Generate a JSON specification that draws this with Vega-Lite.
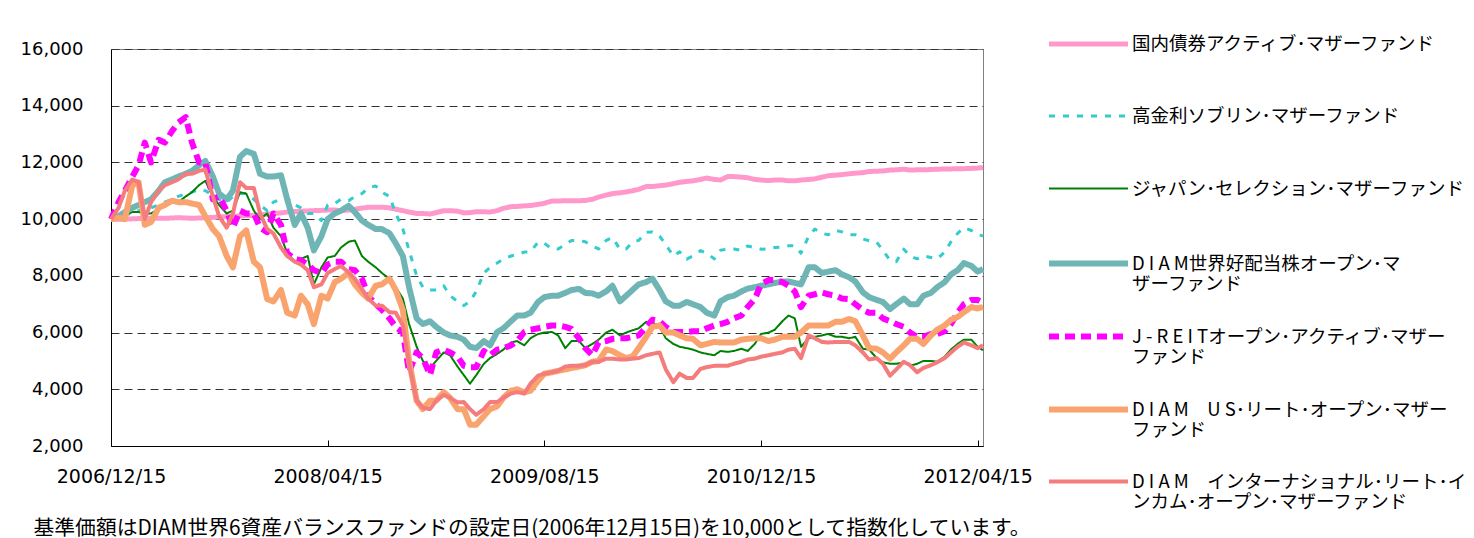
{
  "$schema": "https://vega.github.io/schema/vega-lite/v6.json",
  "width": 872,
  "height": 397,
  "autosize": "none",
  "padding": {"left": 111, "top": 49, "right": 491, "bottom": 92},
  "background": "#ffffff",
  "config": {"view": {"stroke": "#808080", "strokeWidth": 1}},
  "data": {
    "values": [
      {"date": "2006-12-15", "kok": 10000, "sov": 10000, "jap": 10000, "koh": 10000, "jre": 10000, "usr": 10000, "int": 10000},
      {"date": "2007-01-01", "kok": 10000, "sov": 10050, "jap": 10100, "koh": 10100, "jre": 10600, "usr": 10050, "int": 10400},
      {"date": "2007-01-15", "kok": 10000, "sov": 10150, "jap": 10150, "koh": 10250, "jre": 11000, "usr": 10000, "int": 11000},
      {"date": "2007-02-01", "kok": 10010, "sov": 10200, "jap": 10250, "koh": 10400, "jre": 11500, "usr": 11200, "int": 11400},
      {"date": "2007-02-15", "kok": 10020, "sov": 10300, "jap": 10250, "koh": 10500, "jre": 11900, "usr": 11300, "int": 11300},
      {"date": "2007-03-01", "kok": 10030, "sov": 10350, "jap": 10200, "koh": 10600, "jre": 12700, "usr": 9800, "int": 10000},
      {"date": "2007-03-15", "kok": 10030, "sov": 10400, "jap": 10200, "koh": 10700, "jre": 12000, "usr": 9900, "int": 10600},
      {"date": "2007-04-01", "kok": 10030, "sov": 10500, "jap": 10350, "koh": 11000, "jre": 12800, "usr": 10400, "int": 11000},
      {"date": "2007-04-15", "kok": 10030, "sov": 10600, "jap": 10500, "koh": 11300, "jre": 12700, "usr": 10500, "int": 11200},
      {"date": "2007-05-01", "kok": 10040, "sov": 10700, "jap": 10600, "koh": 11400, "jre": 13100, "usr": 10650, "int": 11300},
      {"date": "2007-05-15", "kok": 10050, "sov": 10800, "jap": 10600, "koh": 11500, "jre": 13400, "usr": 10600, "int": 11400},
      {"date": "2007-06-01", "kok": 10040, "sov": 10900, "jap": 10800, "koh": 11600, "jre": 13600, "usr": 10600, "int": 11600},
      {"date": "2007-06-15", "kok": 10030, "sov": 10950, "jap": 10950, "koh": 11700, "jre": 12700, "usr": 10550, "int": 11600},
      {"date": "2007-07-01", "kok": 10040, "sov": 11050, "jap": 11200, "koh": 11900, "jre": 12000, "usr": 10500, "int": 11700},
      {"date": "2007-07-15", "kok": 10050, "sov": 11000, "jap": 11350, "koh": 12050, "jre": 12000, "usr": 10100, "int": 11750},
      {"date": "2007-08-01", "kok": 10060, "sov": 10850, "jap": 10800, "koh": 11500, "jre": 10700, "usr": 9650, "int": 10800},
      {"date": "2007-08-15", "kok": 10080, "sov": 10700, "jap": 10500, "koh": 10900, "jre": 10800, "usr": 9400, "int": 10100},
      {"date": "2007-09-01", "kok": 10090, "sov": 10600, "jap": 10200, "koh": 10700, "jre": 10300, "usr": 8700, "int": 9700},
      {"date": "2007-09-15", "kok": 10100, "sov": 10800, "jap": 10300, "koh": 11000, "jre": 9700, "usr": 8300, "int": 10200},
      {"date": "2007-10-01", "kok": 10110, "sov": 10900, "jap": 10950, "koh": 12200, "jre": 10300, "usr": 9400, "int": 11300},
      {"date": "2007-10-15", "kok": 10120, "sov": 10900, "jap": 10900, "koh": 12400, "jre": 10200, "usr": 9600, "int": 11100},
      {"date": "2007-11-01", "kok": 10130, "sov": 10700, "jap": 10300, "koh": 12300, "jre": 10200, "usr": 8500, "int": 11100},
      {"date": "2007-11-15", "kok": 10150, "sov": 10500, "jap": 10000, "koh": 11600, "jre": 9700, "usr": 8300, "int": 10200},
      {"date": "2007-12-01", "kok": 10180, "sov": 10300, "jap": 10200, "koh": 11500, "jre": 9540, "usr": 7180, "int": 9650},
      {"date": "2007-12-15", "kok": 10200, "sov": 10600, "jap": 9700, "koh": 11500, "jre": 10200, "usr": 7100, "int": 9500},
      {"date": "2008-01-01", "kok": 10220, "sov": 10700, "jap": 9400, "koh": 11550, "jre": 9800, "usr": 7500, "int": 9000},
      {"date": "2008-01-15", "kok": 10250, "sov": 10750, "jap": 8800, "koh": 10700, "jre": 8800, "usr": 6700, "int": 8700},
      {"date": "2008-02-01", "kok": 10270, "sov": 10500, "jap": 8500, "koh": 9800, "jre": 8590, "usr": 6600, "int": 8500},
      {"date": "2008-02-15", "kok": 10280, "sov": 10400, "jap": 8600, "koh": 10200, "jre": 8550, "usr": 7300, "int": 8400},
      {"date": "2008-03-01", "kok": 10290, "sov": 10200, "jap": 8700, "koh": 9700, "jre": 8400, "usr": 7000, "int": 8200},
      {"date": "2008-03-15", "kok": 10300, "sov": 10200, "jap": 7700, "koh": 8900, "jre": 8200, "usr": 6300, "int": 7600},
      {"date": "2008-04-01", "kok": 10310, "sov": 9950, "jap": 8300, "koh": 9400, "jre": 8100, "usr": 7300, "int": 7700},
      {"date": "2008-04-15", "kok": 10320, "sov": 10500, "jap": 8650, "koh": 10000, "jre": 8400, "usr": 7200, "int": 8100},
      {"date": "2008-05-01", "kok": 10320, "sov": 10550, "jap": 8700, "koh": 10200, "jre": 8500, "usr": 7780, "int": 8240},
      {"date": "2008-05-15", "kok": 10300, "sov": 10700, "jap": 9000, "koh": 10300, "jre": 8500, "usr": 7900, "int": 8350},
      {"date": "2008-06-01", "kok": 10320, "sov": 10650, "jap": 9200, "koh": 10470, "jre": 8240, "usr": 8100, "int": 8120},
      {"date": "2008-06-15", "kok": 10350, "sov": 10800, "jap": 9250, "koh": 10250, "jre": 8200, "usr": 7700, "int": 7900},
      {"date": "2008-07-01", "kok": 10390, "sov": 10900, "jap": 8700, "koh": 9950, "jre": 7900, "usr": 7400, "int": 7540},
      {"date": "2008-07-15", "kok": 10420, "sov": 11100, "jap": 8500, "koh": 9800, "jre": 7300, "usr": 7200, "int": 7200},
      {"date": "2008-08-01", "kok": 10420, "sov": 11170, "jap": 8300, "koh": 9650, "jre": 7000, "usr": 7650, "int": 6950},
      {"date": "2008-08-15", "kok": 10420, "sov": 10950, "jap": 8100, "koh": 9650, "jre": 6800, "usr": 7700, "int": 6950},
      {"date": "2008-09-01", "kok": 10400, "sov": 10800, "jap": 7890, "koh": 9500, "jre": 6500, "usr": 7900, "int": 6720},
      {"date": "2008-09-15", "kok": 10350, "sov": 10200, "jap": 7600, "koh": 9150, "jre": 6200, "usr": 7500, "int": 6700},
      {"date": "2008-10-01", "kok": 10300, "sov": 9650, "jap": 7200, "koh": 8700, "jre": 6000, "usr": 6800, "int": 6250},
      {"date": "2008-10-15", "kok": 10250, "sov": 8900, "jap": 6300, "koh": 7600, "jre": 4600, "usr": 5000, "int": 4900},
      {"date": "2008-11-01", "kok": 10200, "sov": 8000, "jap": 5500, "koh": 6500, "jre": 5300, "usr": 3600, "int": 3600},
      {"date": "2008-11-15", "kok": 10200, "sov": 7600, "jap": 5000, "koh": 6300, "jre": 5100, "usr": 3300, "int": 3350},
      {"date": "2008-12-01", "kok": 10180, "sov": 7500, "jap": 4750, "koh": 6400, "jre": 4500, "usr": 3600, "int": 3300},
      {"date": "2008-12-15", "kok": 10230, "sov": 7500, "jap": 5000, "koh": 6200, "jre": 5300, "usr": 3600, "int": 3600},
      {"date": "2009-01-01", "kok": 10300, "sov": 7650, "jap": 5300, "koh": 6000, "jre": 5400, "usr": 3900, "int": 3800},
      {"date": "2009-01-15", "kok": 10300, "sov": 7300, "jap": 5200, "koh": 5900, "jre": 5300, "usr": 3700, "int": 3700},
      {"date": "2009-02-01", "kok": 10280, "sov": 7100, "jap": 4800, "koh": 5850, "jre": 5150, "usr": 3300, "int": 3540},
      {"date": "2009-02-15", "kok": 10220, "sov": 6950, "jap": 4500, "koh": 5750, "jre": 4830, "usr": 3300, "int": 3550},
      {"date": "2009-03-01", "kok": 10230, "sov": 7100, "jap": 4200, "koh": 5500, "jre": 4780, "usr": 2750, "int": 3300},
      {"date": "2009-03-15", "kok": 10260, "sov": 7450, "jap": 4500, "koh": 5450, "jre": 4780, "usr": 2750, "int": 3100},
      {"date": "2009-04-01", "kok": 10260, "sov": 8100, "jap": 4900, "koh": 5700, "jre": 5350, "usr": 3050, "int": 3300},
      {"date": "2009-04-15", "kok": 10250, "sov": 8300, "jap": 5100, "koh": 5550, "jre": 5200, "usr": 3300, "int": 3550},
      {"date": "2009-05-01", "kok": 10300, "sov": 8450, "jap": 5250, "koh": 6020, "jre": 5400, "usr": 3400, "int": 3550},
      {"date": "2009-05-15", "kok": 10380, "sov": 8600, "jap": 5400, "koh": 6150, "jre": 5450, "usr": 3700, "int": 3700},
      {"date": "2009-06-01", "kok": 10440, "sov": 8700, "jap": 5650, "koh": 6400, "jre": 5550, "usr": 3950, "int": 3850},
      {"date": "2009-06-15", "kok": 10450, "sov": 8750, "jap": 5700, "koh": 6600, "jre": 5700, "usr": 4000, "int": 3900},
      {"date": "2009-07-01", "kok": 10470, "sov": 8840, "jap": 5550, "koh": 6600, "jre": 6020, "usr": 3890, "int": 3850},
      {"date": "2009-07-15", "kok": 10480, "sov": 8850, "jap": 5800, "koh": 6700, "jre": 6100, "usr": 3950, "int": 4200},
      {"date": "2009-08-01", "kok": 10520, "sov": 9190, "jap": 5950, "koh": 7080, "jre": 6150, "usr": 4300, "int": 4480},
      {"date": "2009-08-15", "kok": 10560, "sov": 9150, "jap": 6000, "koh": 7250, "jre": 6200, "usr": 4550, "int": 4550},
      {"date": "2009-09-01", "kok": 10640, "sov": 8950, "jap": 6020, "koh": 7300, "jre": 6250, "usr": 4600, "int": 4600},
      {"date": "2009-09-15", "kok": 10640, "sov": 8950, "jap": 5900, "koh": 7300, "jre": 6250, "usr": 4650, "int": 4650},
      {"date": "2009-10-01", "kok": 10650, "sov": 9100, "jap": 5450, "koh": 7400, "jre": 6200, "usr": 4700, "int": 4800},
      {"date": "2009-10-15", "kok": 10650, "sov": 9250, "jap": 5700, "koh": 7500, "jre": 6130, "usr": 4750, "int": 4830},
      {"date": "2009-11-01", "kok": 10650, "sov": 9250, "jap": 5700, "koh": 7540, "jre": 5800, "usr": 4800, "int": 4830},
      {"date": "2009-11-15", "kok": 10660, "sov": 9200, "jap": 5450, "koh": 7400, "jre": 5450, "usr": 4850, "int": 4850},
      {"date": "2009-12-01", "kok": 10700, "sov": 9050, "jap": 5600, "koh": 7380, "jre": 5200, "usr": 4970, "int": 4970},
      {"date": "2009-12-15", "kok": 10780, "sov": 8950, "jap": 5750, "koh": 7300, "jre": 5650, "usr": 5000, "int": 4970},
      {"date": "2010-01-01", "kok": 10850, "sov": 9250, "jap": 6000, "koh": 7450, "jre": 5700, "usr": 5400, "int": 5080},
      {"date": "2010-01-15", "kok": 10900, "sov": 9350, "jap": 6100, "koh": 7650, "jre": 5780, "usr": 5350, "int": 5080},
      {"date": "2010-02-01", "kok": 10930, "sov": 8940, "jap": 5900, "koh": 7100, "jre": 5800, "usr": 5200, "int": 5050},
      {"date": "2010-02-15", "kok": 10960, "sov": 8950, "jap": 6000, "koh": 7300, "jre": 5800, "usr": 5100, "int": 5050},
      {"date": "2010-03-01", "kok": 11000, "sov": 9190, "jap": 6080, "koh": 7500, "jre": 5850, "usr": 5150, "int": 5080},
      {"date": "2010-03-15", "kok": 11050, "sov": 9250, "jap": 6150, "koh": 7700, "jre": 5900, "usr": 5450, "int": 5100},
      {"date": "2010-04-01", "kok": 11150, "sov": 9540, "jap": 6380, "koh": 7780, "jre": 6200, "usr": 5850, "int": 5200},
      {"date": "2010-04-15", "kok": 11150, "sov": 9550, "jap": 6350, "koh": 7900, "jre": 6450, "usr": 6200, "int": 5250},
      {"date": "2010-05-01", "kok": 11180, "sov": 9400, "jap": 6200, "koh": 7500, "jre": 6400, "usr": 6250, "int": 5300},
      {"date": "2010-05-15", "kok": 11200, "sov": 9100, "jap": 5800, "koh": 7100, "jre": 6200, "usr": 6000, "int": 4700},
      {"date": "2010-06-01", "kok": 11250, "sov": 8700, "jap": 5600, "koh": 6950, "jre": 6020, "usr": 6000, "int": 4250},
      {"date": "2010-06-15", "kok": 11300, "sov": 8850, "jap": 5500, "koh": 6950, "jre": 6020, "usr": 5900, "int": 4550},
      {"date": "2010-07-01", "kok": 11330, "sov": 8590, "jap": 5450, "koh": 7080, "jre": 6020, "usr": 5800, "int": 4400},
      {"date": "2010-07-15", "kok": 11350, "sov": 8700, "jap": 5400, "koh": 7000, "jre": 6050, "usr": 5780, "int": 4400},
      {"date": "2010-08-01", "kok": 11400, "sov": 8890, "jap": 5300, "koh": 6900, "jre": 6050, "usr": 5550, "int": 4720},
      {"date": "2010-08-15", "kok": 11450, "sov": 8800, "jap": 5250, "koh": 6700, "jre": 6150, "usr": 5600, "int": 4780},
      {"date": "2010-09-01", "kok": 11400, "sov": 8600, "jap": 5200, "koh": 6600, "jre": 6250, "usr": 5670, "int": 4830},
      {"date": "2010-09-15", "kok": 11380, "sov": 8900, "jap": 5350, "koh": 7100, "jre": 6300, "usr": 5650, "int": 4830},
      {"date": "2010-10-01", "kok": 11500, "sov": 8950, "jap": 5320, "koh": 7250, "jre": 6380, "usr": 5650, "int": 4830},
      {"date": "2010-10-15", "kok": 11500, "sov": 8950, "jap": 5350, "koh": 7300, "jre": 6500, "usr": 5650, "int": 4900},
      {"date": "2010-11-01", "kok": 11480, "sov": 8900, "jap": 5430, "koh": 7450, "jre": 6600, "usr": 5750, "int": 4970},
      {"date": "2010-11-15", "kok": 11460, "sov": 9050, "jap": 5350, "koh": 7550, "jre": 6900, "usr": 5780, "int": 5050},
      {"date": "2010-12-01", "kok": 11400, "sov": 9000, "jap": 5600, "koh": 7600, "jre": 7180, "usr": 5800, "int": 5080},
      {"date": "2010-12-15", "kok": 11380, "sov": 8940, "jap": 5950, "koh": 7650, "jre": 7700, "usr": 5800, "int": 5150},
      {"date": "2011-01-01", "kok": 11360, "sov": 8950, "jap": 6000, "koh": 7700, "jre": 7850, "usr": 5700, "int": 5200},
      {"date": "2011-01-15", "kok": 11380, "sov": 9000, "jap": 6100, "koh": 7750, "jre": 7850, "usr": 5750, "int": 5250},
      {"date": "2011-02-01", "kok": 11380, "sov": 9020, "jap": 6400, "koh": 7800, "jre": 7780, "usr": 5850, "int": 5300},
      {"date": "2011-02-15", "kok": 11350, "sov": 9060, "jap": 6600, "koh": 7800, "jre": 7650, "usr": 5850, "int": 5400},
      {"date": "2011-03-01", "kok": 11350, "sov": 9060, "jap": 6500, "koh": 7750, "jre": 7450, "usr": 5850, "int": 5430},
      {"date": "2011-03-15", "kok": 11380, "sov": 8800, "jap": 5500, "koh": 7700, "jre": 6900, "usr": 6000, "int": 5100},
      {"date": "2011-04-01", "kok": 11400, "sov": 9400, "jap": 5800, "koh": 8300, "jre": 7300, "usr": 6250, "int": 5900},
      {"date": "2011-04-15", "kok": 11420, "sov": 9650, "jap": 5850, "koh": 8300, "jre": 7350, "usr": 6250, "int": 5800},
      {"date": "2011-05-01", "kok": 11480, "sov": 9500, "jap": 5900, "koh": 8100, "jre": 7420, "usr": 6250, "int": 5670},
      {"date": "2011-05-15", "kok": 11530, "sov": 9450, "jap": 5950, "koh": 8150, "jre": 7350, "usr": 6250, "int": 5650},
      {"date": "2011-06-01", "kok": 11550, "sov": 9600, "jap": 5850, "koh": 8200, "jre": 7300, "usr": 6380, "int": 5670},
      {"date": "2011-06-15", "kok": 11570, "sov": 9550, "jap": 5850, "koh": 8050, "jre": 7200, "usr": 6380, "int": 5670},
      {"date": "2011-07-01", "kok": 11600, "sov": 9450, "jap": 5800, "koh": 7950, "jre": 7180, "usr": 6480, "int": 5670},
      {"date": "2011-07-15", "kok": 11620, "sov": 9450, "jap": 5850, "koh": 7800, "jre": 7000, "usr": 6400, "int": 5550},
      {"date": "2011-08-01", "kok": 11640, "sov": 9300, "jap": 5430, "koh": 7420, "jre": 6800, "usr": 5900, "int": 5300},
      {"date": "2011-08-15", "kok": 11680, "sov": 9240, "jap": 5400, "koh": 7250, "jre": 6700, "usr": 5450, "int": 5050},
      {"date": "2011-09-01", "kok": 11690, "sov": 9190, "jap": 5100, "koh": 7150, "jre": 6700, "usr": 5430, "int": 5100},
      {"date": "2011-09-15", "kok": 11700, "sov": 8900, "jap": 4950, "koh": 7080, "jre": 6500, "usr": 5300, "int": 4900},
      {"date": "2011-10-01", "kok": 11730, "sov": 8550, "jap": 4900, "koh": 6830, "jre": 6400, "usr": 5080, "int": 4480},
      {"date": "2011-10-15", "kok": 11740, "sov": 8500, "jap": 4900, "koh": 7000, "jre": 6300, "usr": 5300, "int": 4700},
      {"date": "2011-11-01", "kok": 11760, "sov": 8940, "jap": 4950, "koh": 7200, "jre": 6200, "usr": 5550, "int": 4970},
      {"date": "2011-11-15", "kok": 11730, "sov": 8700, "jap": 4830, "koh": 7000, "jre": 6000, "usr": 5780, "int": 4850},
      {"date": "2011-12-01", "kok": 11740, "sov": 8600, "jap": 4900, "koh": 7000, "jre": 5850, "usr": 5780, "int": 4600},
      {"date": "2011-12-15", "kok": 11740, "sov": 8700, "jap": 5000, "koh": 7300, "jre": 5850, "usr": 5600, "int": 4750},
      {"date": "2012-01-01", "kok": 11750, "sov": 8650, "jap": 5000, "koh": 7400, "jre": 5950, "usr": 5900, "int": 4850},
      {"date": "2012-01-15", "kok": 11760, "sov": 8600, "jap": 4970, "koh": 7600, "jre": 5950, "usr": 6100, "int": 4950},
      {"date": "2012-02-01", "kok": 11770, "sov": 8840, "jap": 5150, "koh": 7780, "jre": 6050, "usr": 6250, "int": 5100},
      {"date": "2012-02-15", "kok": 11770, "sov": 9200, "jap": 5400, "koh": 8050, "jre": 6300, "usr": 6450, "int": 5300},
      {"date": "2012-03-01", "kok": 11780, "sov": 9500, "jap": 5600, "koh": 8200, "jre": 6700, "usr": 6550, "int": 5500},
      {"date": "2012-03-15", "kok": 11780, "sov": 9700, "jap": 5750, "koh": 8450, "jre": 7000, "usr": 6720, "int": 5650},
      {"date": "2012-04-01", "kok": 11790, "sov": 9600, "jap": 5750, "koh": 8350, "jre": 7150, "usr": 6900, "int": 5550},
      {"date": "2012-04-15", "kok": 11800, "sov": 9470, "jap": 5500, "koh": 8150, "jre": 7150, "usr": 6850, "int": 5450},
      {"date": "2012-04-27", "kok": 11820, "sov": 9400, "jap": 5380, "koh": 8240, "jre": 7050, "usr": 6900, "int": 5550}
    ]
  },
  "transform": [
    {"fold": ["kok", "sov", "jap", "koh", "jre", "usr", "int"], "as": ["fund", "value"]}
  ],
  "mark": {"type": "line", "strokeCap": "butt", "strokeJoin": "round"},
  "encoding": {
    "x": {
      "field": "date", "type": "temporal",
      "scale": {"type": "utc", "domain": [{"year": 2006, "month": 12, "date": 15, "utc": true}, {"year": 2012, "month": 4, "date": 27, "utc": true}]},
      "axis": {
        "title": "基準価額はDIAM世界6資産バランスファンドの設定日(2006年12月15日)を10,000として指数化しています。",
        "titleFont": "Noto Sans CJK JP", "titleFontSize": 20.8, "titleFontWeight": "normal", "titleColor": "#000000",
        "titleAlign": "left", "titleBaseline": "top", "titleX": -78, "titleY": 72, "titleLimit": 1400, "titleAngle": 0,
        "grid": false,
        "values": [
          {"year": 2006, "month": 12, "date": 15, "utc": true},
          {"year": 2008, "month": 4, "date": 15, "utc": true},
          {"year": 2009, "month": 8, "date": 15, "utc": true},
          {"year": 2010, "month": 12, "date": 15, "utc": true},
          {"year": 2012, "month": 4, "date": 15, "utc": true}
        ],
        "format": "%Y/%m/%d", "labelFont": "DejaVu Sans", "labelFontSize": 19, "labelColor": "#000000",
        "tickSize": -6, "tickColor": "#000000", "domainColor": "#000000", "labelPadding": 27,
        "labelFlush": false, "labelOverlap": false
      }
    },
    "y": {
      "field": "value", "type": "quantitative",
      "scale": {"domain": [2000, 16000], "nice": false, "zero": false},
      "axis": {
        "title": null, "values": [2000, 4000, 6000, 8000, 10000, 12000, 14000, 16000],
        "format": ",d", "labelFont": "DejaVu Sans", "labelFontSize": 18, "labelColor": "#000000",
        "ticks": false, "labelPadding": 28, "domainColor": "#000000",
        "grid": true, "gridColor": "#333333", "gridDash": [8, 5], "gridWidth": 1
      }
    },
    "color": {
      "field": "fund", "type": "nominal",
      "scale": {
        "domain": ["kok", "sov", "jap", "koh", "jre", "usr", "int"],
        "range": ["#FF99CC", "#33CCCC", "#008000", "#6FB5B5", "#FF00FF", "#F9A46E", "#F47C7C"]
      },
      "legend": {
        "title": null, "orient": "none", "legendX": 935, "legendY": -47, "padding": 0,
        "symbolType": "stroke", "symbolSize": 6241,
        "labelFont": "Noto Sans CJK JP", "labelFontSize": 18.5, "labelColor": "#000000", "labelLimit": 400,
        "labelOffset": 1, "rowPadding": 0, "gridAlign": "all",
        "labelExpr": "datum.value == 'kok' ? '国内債券アクティブ･マザーファンド' : datum.value == 'sov' ? '高金利ソブリン･マザーファンド' : datum.value == 'jap' ? 'ジャパン･セレクション･マザーファンド' : datum.value == 'koh' ? ['D I A M世界好配当株オープン･マ', 'ザーファンド'] : datum.value == 'jre' ? ['J - R E I Tオープン･アクティブ･マザー', 'ファンド'] : datum.value == 'usr' ? ['D I A M　U S･リート･オープン･マザー', 'ファンド'] : ['D I A M　インターナショナル･リート･イ', 'ンカム･オープン･マザーファンド']"
      }
    },
    "strokeDash": {
      "field": "fund", "type": "nominal",
      "scale": {
        "domain": ["kok", "sov", "jap", "koh", "jre", "usr", "int"],
        "range": [[1, 0], [6, 8], [1, 0], [1, 0], [10, 6], [1, 0], [1, 0]]
      }
    },
    "strokeWidth": {
      "field": "fund", "type": "nominal",
      "scale": {
        "type": "ordinal",
        "domain": ["kok", "sov", "jap", "koh", "jre", "usr", "int"],
        "range": [5, 3, 2, 6, 6, 6, 4]
      }
    }
  }
}
